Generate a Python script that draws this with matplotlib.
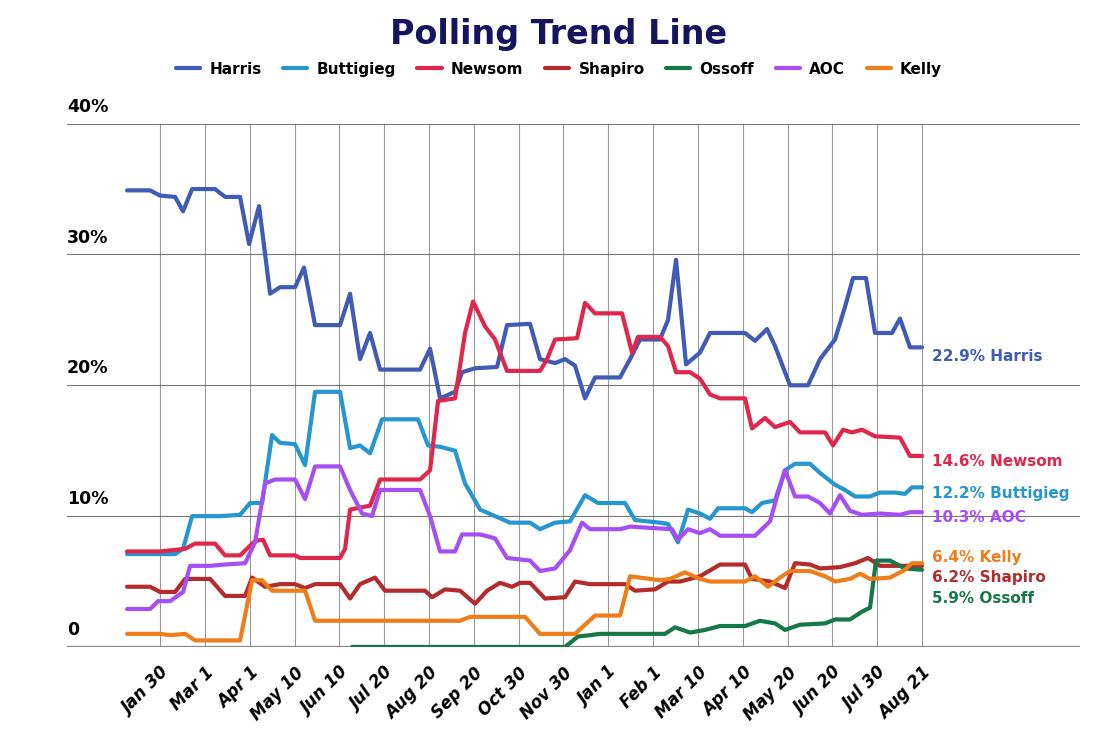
import numpy as np
import matplotlib
matplotlib.use("Agg")
import matplotlib.pyplot as plt

# x positions are read on the chart's horizontal scale (ticks at 160..922)
tick_labels = ["Jan 30", "Mar 1", "Apr 1", "May 10", "Jun 10", "Jul 20", "Aug 20", "Sep 20",
               "Oct 30", "Nov 30", "Jan 1", "Feb 1", "Mar 10", "Apr 10", "May 20", "Jun 20",
               "Jul 30", "Aug 21"]

harris_x = [127, 150, 160, 175, 183, 192, 215, 225, 240, 249, 259, 270, 280, 295, 304, 315, 340, 350, 360, 370,
            380, 420, 430, 440, 455, 462, 475, 497, 507, 530, 540, 555, 565, 575, 585, 595, 620, 630, 640, 660,
            668, 676, 686, 700, 710, 745, 755, 767, 775, 790, 808, 820, 835, 845, 853, 866, 875, 892, 900, 910, 922]
harris_y = [34.9, 34.9, 34.5, 34.4, 33.3, 35, 35, 34.4, 34.4, 30.8, 33.7, 27, 27.5, 27.5, 29, 24.6, 24.6, 27, 22, 24,
            21.2, 21.2, 22.8, 19, 19.5, 21, 21.3, 21.4, 24.6, 24.7, 22, 21.7, 22, 21.5, 19, 20.6, 20.6, 22, 23.5, 23.5,
            25, 29.6, 21.6, 22.5, 24, 24, 23.4, 24.3, 23, 20, 20, 22, 23.5, 26, 28.2, 28.2, 24, 24, 25.1, 22.9, 22.9]

newsom_x = [127, 160, 185, 195, 215, 225, 240, 255, 263, 270, 295, 300, 340, 345, 350, 370, 380, 420, 430, 438,
            455, 465, 473, 485, 495, 507, 540, 547, 555, 577, 585, 595, 622, 632, 638, 660, 668, 676, 690, 700,
            710, 720, 745, 752, 765, 775, 790, 800, 825, 833, 843, 852, 862, 875, 900, 910, 922]
newsom_y = [7.3, 7.3, 7.5, 7.9, 7.9, 7, 7, 8.1, 8.2, 7, 7, 6.8, 6.8, 7.5, 10.5, 10.8, 12.8, 12.8, 13.5, 18.8,
            19, 24, 26.4, 24.5, 23.5, 21.1, 21.1, 22, 23.5, 23.6, 26.3, 25.5, 25.5, 22.5, 23.7, 23.7, 23, 21, 21, 20.5,
            19.3, 19, 19, 16.7, 17.5, 16.8, 17.2, 16.4, 16.4, 15.4, 16.6, 16.4, 16.6, 16.1, 16, 14.6, 14.6]

butt_x = [127, 175, 183, 192, 220, 240, 250, 262, 272, 280, 295, 305, 315, 340, 350, 360, 370, 382, 418, 428,
          440, 455, 465, 480, 495, 510, 530, 540, 555, 570, 585, 598, 625, 635, 660, 668, 678, 688, 700, 710,
          718, 745, 752, 762, 775, 785, 795, 810, 820, 835, 845, 855, 870, 880, 895, 905, 912, 922]
butt_y = [7.1, 7.1, 7.5, 10, 10, 10.1, 11, 11, 16.2, 15.6, 15.5, 13.9, 19.5, 19.5, 15.2, 15.4, 14.8, 17.4, 17.4, 15.4,
          15.3, 15, 12.5, 10.5, 10, 9.5, 9.5, 9, 9.5, 9.6, 11.6, 11, 11, 9.7, 9.5, 9.4, 8, 10.5, 10.2, 9.8,
          10.6, 10.6, 10.3, 11, 11.2, 13.5, 14, 14, 13.3, 12.4, 12, 11.5, 11.5, 11.8, 11.8, 11.7, 12.2, 12.2]

aoc_x = [127, 150, 158, 170, 183, 190, 210, 225, 245, 255, 265, 275, 295, 305, 315, 340, 350, 362, 372, 380,
         420, 430, 440, 455, 462, 480, 495, 507, 530, 540, 555, 570, 582, 590, 620, 630, 650, 672, 678, 688,
         700, 710, 720, 755, 770, 777, 785, 795, 808, 820, 830, 840, 850, 862, 880, 900, 910, 922]
aoc_y = [2.9, 2.9, 3.5, 3.5, 4.2, 6.2, 6.2, 6.3, 6.4, 8, 12.5, 12.8, 12.8, 11.3, 13.8, 13.8, 12, 10.2, 10, 12,
         12, 10, 7.3, 7.3, 8.6, 8.6, 8.3, 6.8, 6.6, 5.8, 6, 7.4, 9.5, 9, 9, 9.2, 9.1, 9, 8.2, 9,
         8.7, 9, 8.5, 8.5, 9.6, 11.5, 13.5, 11.5, 11.5, 11, 10.2, 11.6, 10.4, 10.1, 10.2, 10.1, 10.3, 10.3]

shapiro_x = [127, 150, 160, 175, 185, 210, 225, 245, 252, 265, 280, 295, 305, 315, 340, 350, 360, 375, 385, 425,
             432, 445, 460, 475, 487, 500, 512, 520, 530, 545, 565, 575, 590, 625, 635, 655, 668, 680, 690, 700,
             720, 745, 752, 770, 785, 795, 810, 820, 840, 855, 868, 880, 922]
shapiro_y = [4.6, 4.6, 4.2, 4.2, 5.2, 5.2, 3.9, 3.9, 5.3, 4.6, 4.8, 4.8, 4.5, 4.8, 4.8, 3.7, 4.8, 5.3, 4.3, 4.3,
             3.8, 4.4, 4.3, 3.3, 4.3, 4.9, 4.6, 4.9, 4.9, 3.7, 3.8, 5, 4.8, 4.8, 4.3, 4.4, 5, 5, 5.2, 5.4,
             6.3, 6.3, 5.2, 5, 4.5, 6.4, 6.3, 6, 6.1, 6.4, 6.8, 6.2, 6.2]

ossoff_x = [352, 565, 578, 590, 600, 665, 675, 690, 705, 720, 745, 760, 775, 785, 800, 825, 835, 850, 862, 870,
            876, 890, 905, 922]
ossoff_y = [0, 0, 0.8, 0.9, 1, 1, 1.5, 1.1, 1.3, 1.6, 1.6, 2, 1.8, 1.3, 1.7, 1.8, 2.1, 2.1, 2.7, 3,
            6.6, 6.6, 6, 5.9]

kelly_x = [127, 160, 170, 185, 195, 240, 252, 262, 272, 305, 315, 460, 470, 525, 540, 575, 595, 620, 630, 660,
           670, 685, 700, 710, 745, 755, 768, 780, 790, 810, 825, 835, 850, 860, 870, 890, 905, 912, 922]
kelly_y = [1, 1, 0.9, 1, 0.5, 0.5, 5.1, 5.1, 4.3, 4.3, 2, 2, 2.3, 2.3, 1, 1, 2.4, 2.4, 5.4, 5.1,
           5.2, 5.7, 5.2, 5, 5, 5.4, 4.6, 5.3, 5.8, 5.8, 5.4, 5, 5.2, 5.6, 5.2, 5.3, 5.9, 6.4, 6.4]

series = [
    ("Harris", harris_x, harris_y, "#3f5bb5", "22.9% Harris"),
    ("Buttigieg", butt_x, butt_y, "#2596cf", "12.2% Buttigieg"),
    ("Newsom", newsom_x, newsom_y, "#e0264a", "14.6% Newsom"),
    ("Shapiro", shapiro_x, shapiro_y, "#b32b2b", "6.2% Shapiro"),
    ("Ossoff", ossoff_x, ossoff_y, "#16774a", "5.9% Ossoff"),
    ("AOC", aoc_x, aoc_y, "#a64ef2", "10.3% AOC"),
    ("Kelly", kelly_x, kelly_y, "#ee7d1a", "6.4% Kelly"),
]
label_y = {"Harris": 22.2, "Newsom": 14.2, "Buttigieg": 11.7, "AOC": 9.9,
           "Kelly": 6.8, "Shapiro": 5.3, "Ossoff": 3.7}

fig = plt.figure(figsize=(11.18, 7.36), dpi=100)
ax = fig.add_axes([0.060, 0.121, 0.906, 0.711])
ax.set_xlim(67, 1080)
ax.set_ylim(0, 40)

ticks = np.linspace(160, 922, len(tick_labels))
for t in ticks:
    ax.plot([t, t], [0, 40], color="#999999", lw=0.8, zorder=1)
for yv in [10, 20, 30, 40]:
    ax.axhline(yv, color="#777777", lw=0.8, zorder=1)
ax.axhline(0, color="#888888", lw=1.6, zorder=1)

for name, xs, ys, col, lab in series:
    ax.plot(xs, ys, color=col, lw=3, solid_joinstyle="round", solid_capstyle="round",
            label=name, zorder=3)
    ax.text(932, label_y[name], lab, color=col, fontsize=11, fontweight="bold", va="center")

for yv, s in [(0, "0"), (10, "10%"), (20, "20%"), (30, "30%"), (40, "40%")]:
    ax.text(67, yv + 0.6, s, fontsize=12.5, fontweight="bold", ha="left", va="bottom")

ax.set_xticks(ticks)
ax.set_xticklabels(tick_labels, rotation=45, ha="right", rotation_mode="anchor",
                   fontsize=12, fontweight="bold", style="italic")
ax.tick_params(axis="x", length=0, pad=12)
ax.set_yticks([])
for s in ax.spines.values():
    s.set_visible(False)

fig.text(0.5, 0.975, "Polling Trend Line", ha="center", va="top", fontsize=24,
         fontweight="bold", color="#15145e")
fig.legend(loc="upper center", bbox_to_anchor=(0.5, 0.935), ncol=7, frameon=False,
           handlelength=1.6, handletextpad=0.6, columnspacing=1.4,
           prop={"weight": "bold", "size": 11})

fig.savefig("out.png", dpi=100)
